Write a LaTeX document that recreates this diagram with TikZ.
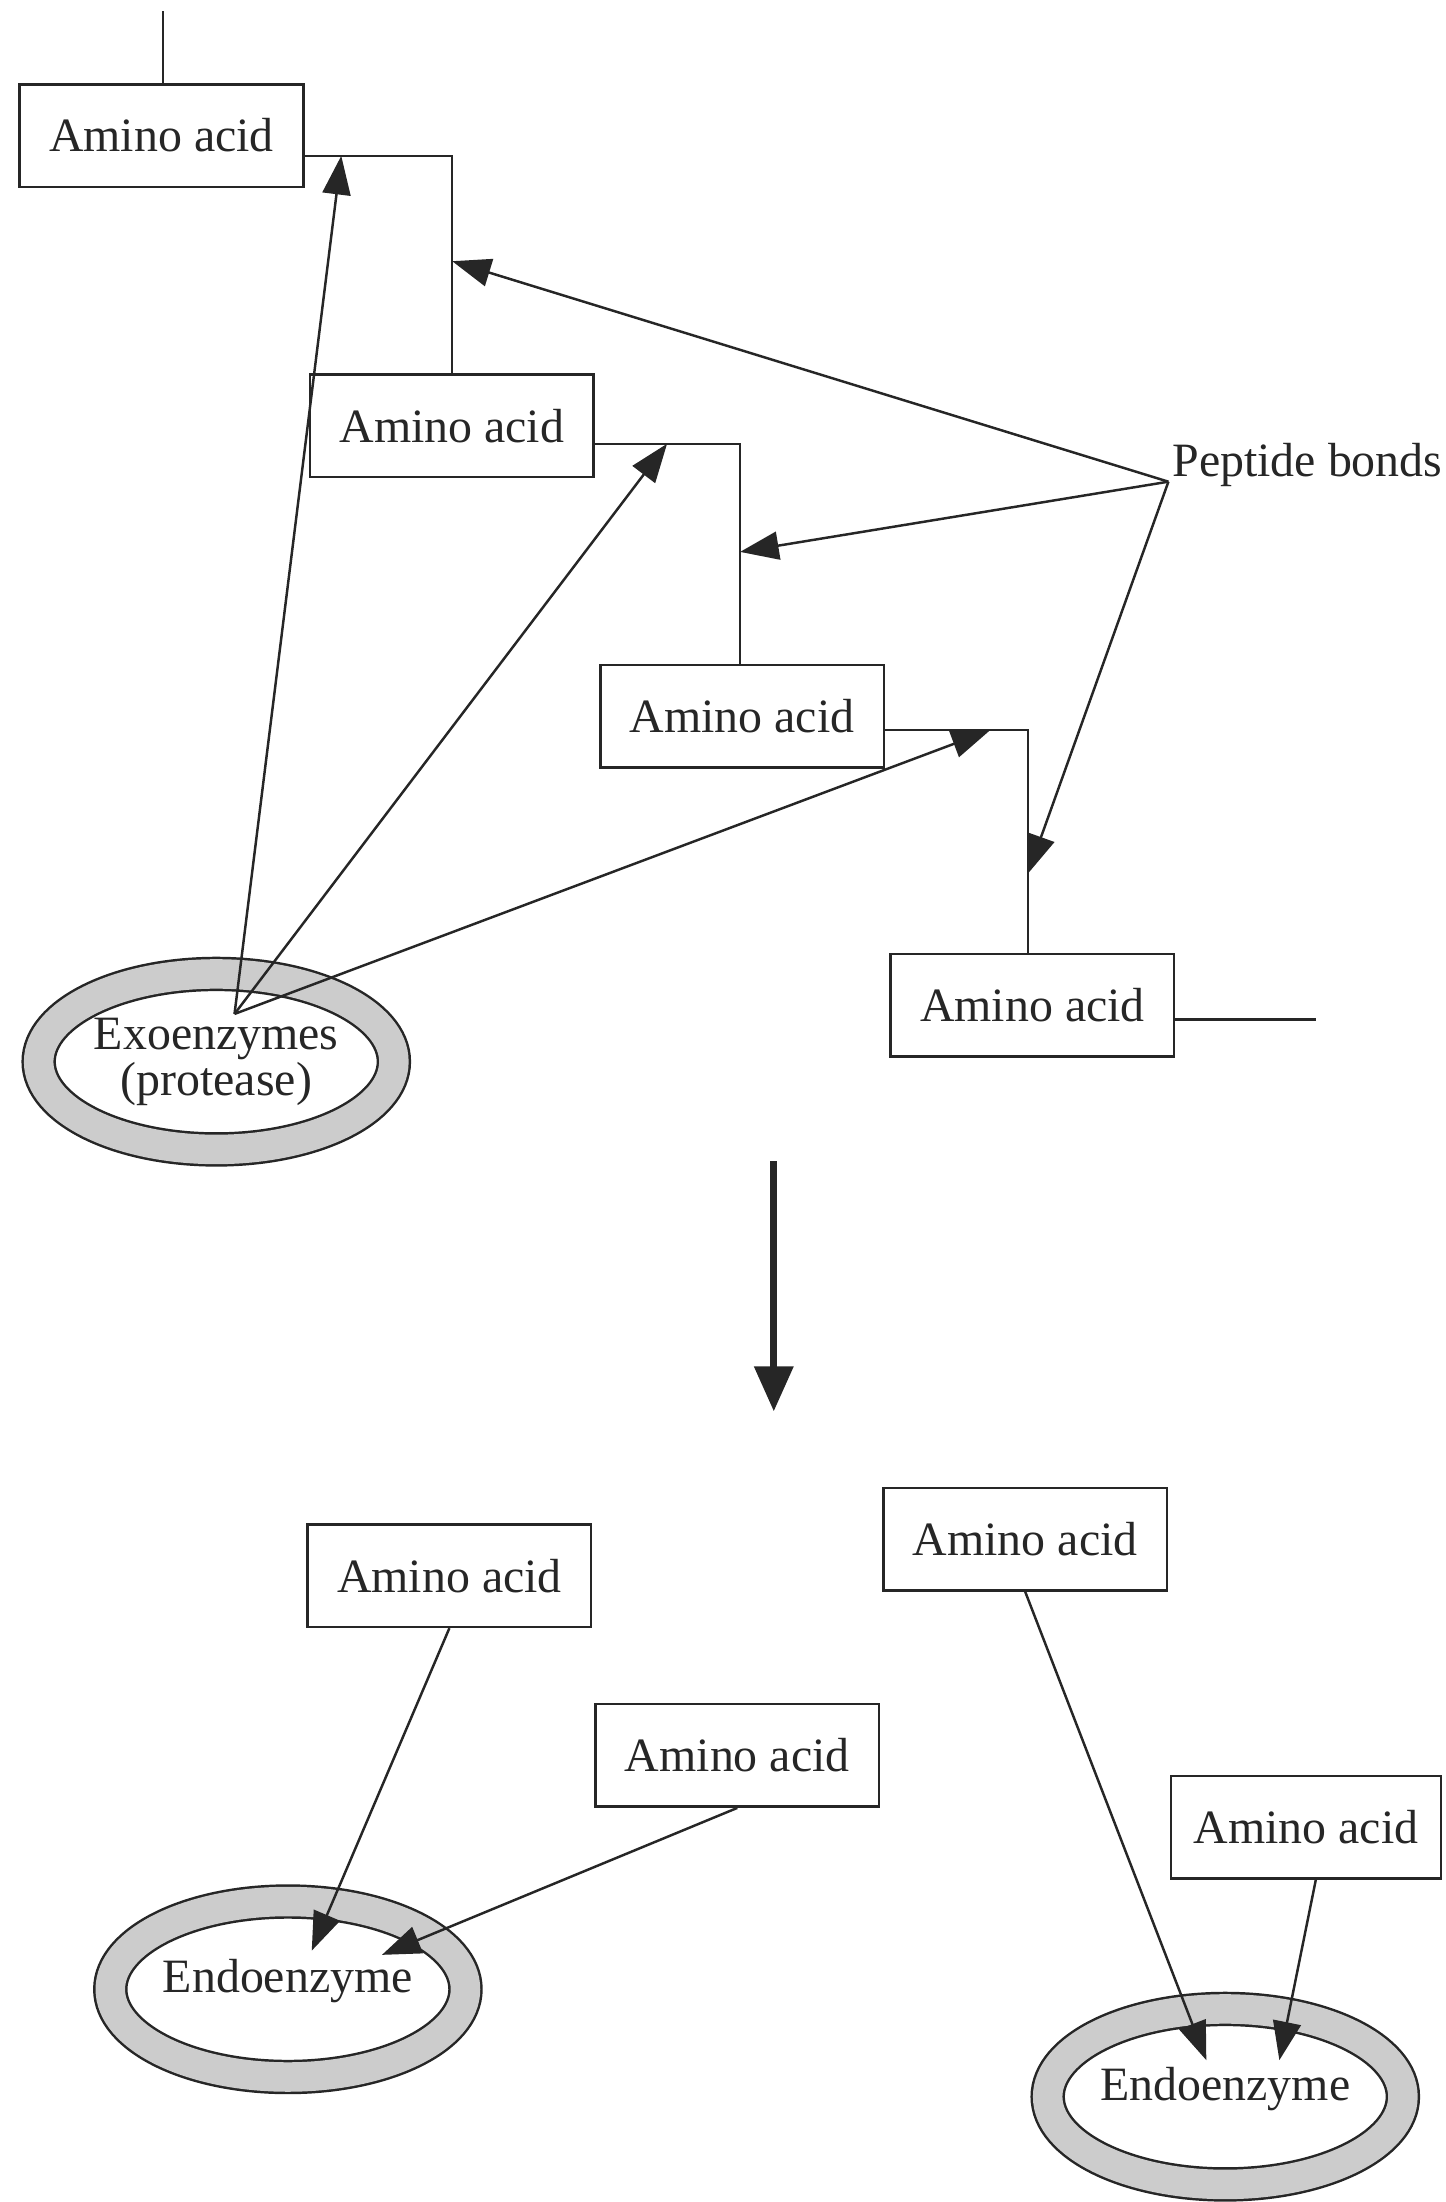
\documentclass[tikz,border=0pt]{standalone}
\usepackage{fontspec}
\setmainfont{Liberation Serif}
\usepackage{tikz}
\usetikzlibrary{positioning,arrows.meta,calc,shapes.geometric}

\begin{document}
\begin{tikzpicture}[
  x=0.02cm, y=-0.02cm,
  color=black!85, line width=1pt,
  acid/.style={draw, fill=white, minimum width=4.04cm, minimum height=1.46cm,
               inner sep=0pt, font=\fontsize{19.4}{21}\selectfont},
  ring/.style={ellipse, draw, double=black!20, double distance=0.42cm,
               minimum width=5.06cm, minimum height=2.5cm, inner sep=0pt,
               align=center, font=\fontsize{19.4}{18.8}\selectfont},
  >={Triangle[length=0.55cm, width=0.4cm]}
]
  \useasboundingbox (0,0) rectangle (1029,1568);

  % Peptide chain
  \node[acid] at (115,96.5) (aa1) {Amino acid};
  \node[acid, below right=2.64cm and 0.06cm of aa1] (aa2) {Amino acid};
  \node[acid, below right=2.64cm and 0.06cm of aa2] (aa3) {Amino acid};
  \node[acid, below right=2.62cm and 0.06cm of aa3] (aa4) {Amino acid};

  % Bonds
  \coordinate (top) at (116,8);
  \coordinate (b1) at (322,111);
  \coordinate (b2) at (527,316);
  \coordinate (b3) at (732,520);
  \coordinate (tail) at (937,726);
  \draw (aa1.north -| top) -- (top);
  \draw (aa1.east |- b1) -- (b1) -- (b1 |- aa2.north);
  \draw (aa2.east |- b2) -- (b2) -- (b2 |- aa3.north);
  \draw (aa3.east |- b3) -- (b3) -- (b3 |- aa4.north);
  \draw (aa4.east |- tail) -- (tail);

  % Label
  \node[anchor=base west, inner sep=0pt, font=\fontsize{19.4}{21}\selectfont]
    at (834,339) (pep) {Peptide bonds};
  \coordinate (pb) at (832,343);
  \draw[->] (pb) -- (322,186);
  \draw[->] (pb) -- (527,393);
  \draw[->] (pb) -- (732,622);

  % Exoenzyme
  \node[ring] at (154,756) (exo) {Exoenzymes\\(protease)};
  \coordinate (ex) at (167,722);
  \draw[->] (ex) -- (243,111);
  \draw[->] (ex) -- (475,316);
  \draw[->] (ex) -- (705,520);

  % Step
  \coordinate (s1) at (551,827);
  \coordinate (s2) at (551,1005);
  \draw[->, line width=2.8pt, >={Triangle[length=0.64cm, width=0.54cm]}]
    (s1) -- (s2);

  % Free amino acids
  \node[acid] at (320,1122) (aa5) {Amino acid};
  \node[acid] at (525,1250) (aa6) {Amino acid};
  \node[acid] at (730,1096) (aa7) {Amino acid};
  \node[acid, minimum width=3.84cm] at (930,1301) (aa8) {Amino acid};

  % Endoenzymes
  \node[ring, text depth=0.37cm] at (205,1416.5) (endo1) {Endoenzyme};
  \node[ring, text depth=0.37cm] at (872.5,1493) (endo2) {Endoenzyme};

  \coordinate (n1) at (222,1389);
  \coordinate (n2) at (272,1392);
  \coordinate (n3) at (859,1467);
  \coordinate (n4) at (911,1467);
  \draw[->] (aa5.south) -- (n1);
  \draw[->] (aa6.south) -- (n2);
  \draw[->] (aa7.south) -- (n3);
  \draw[->] ($(aa8.south)+(7,0)$) -- (n4);
\end{tikzpicture}
\end{document}
